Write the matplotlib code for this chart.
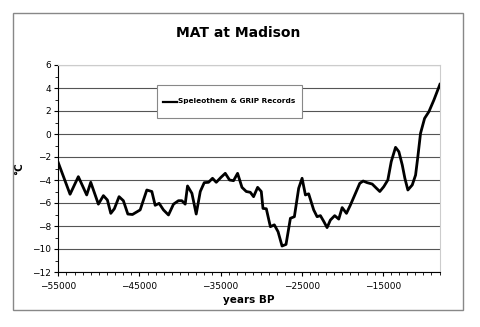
import matplotlib.pyplot as plt
from matplotlib.patches import Rectangle
from matplotlib.ticker import MultipleLocator

# values (years BP, deg C)
years = [-55000, -53550, -52530, -51500, -51000, -50060, -49440, -48950, -48530,
         -48090, -47510, -46980, -46430, -45860, -44910, -44090, -43470, -43060,
         -42570, -42040, -41420, -40800, -40190, -39770, -39360, -39070, -38530,
         -38000, -37500, -37010, -36480, -35990, -35530, -34950, -34420, -33890,
         -33400, -32900, -32360, -31830, -31330, -30930, -30430, -29980, -29770,
         -29360, -28860, -28370, -27910, -27420, -26930, -26390, -25900, -25370,
         -24950, -24540, -24140, -23520, -23100, -22690, -22280, -21870, -21460,
         -20930, -20430, -20010, -19480, -18990, -18370, -17840, -17420, -16930,
         -16310, -15780, -15370, -14880, -14380, -13960, -13430, -13020, -12600,
         -12280, -11910, -11370, -10960, -10680, -10350, -9850, -9320, -8700,
         -7960]
mat = [-2.5, -5.24, -3.71, -5.3, -4.2, -6.1, -5.36, -5.74, -6.9,
       -6.5, -5.45, -5.8, -6.96, -7.0, -6.6, -4.87, -5.0, -6.2,
       -6.03, -6.6, -7.04, -6.1, -5.8, -5.8, -6.1, -4.52, -5.16,
       -6.96, -5.0, -4.23, -4.2, -3.85, -4.2, -3.77, -3.42, -4.0,
       -4.06, -3.42, -4.64, -5.0, -5.07, -5.45, -4.64, -5.0, -6.47,
       -6.5, -8.06, -7.9, -8.5, -9.74, -9.6, -7.33, -7.19, -4.72,
       -3.85, -5.3, -5.2, -6.6, -7.19, -7.1, -7.6, -8.14, -7.48,
       -7.1, -7.4, -6.4, -6.9, -6.17, -5.16, -4.29, -4.09, -4.23,
       -4.35, -4.72, -5.0, -4.58, -4.0, -2.4, -1.16, -1.54, -2.7,
       -3.85, -4.87, -4.43, -3.57, -1.97, 0.06, 1.36, 1.94, 2.96,
       4.32]
xticks = [-55000, -45000, -35000, -25000, -15000]
series_name = 'Speleothem & GRIP Records'

plt.rcParams['font.family'] = ['DejaVu Sans']

fig = plt.figure(figsize=(4.8, 3.27), dpi=100)

# outer chart frame
fig.patches.append(Rectangle((13 / 480, 1 - 310 / 327), 450 / 480, 297 / 327,
                             transform=fig.transFigure, fill=False,
                             edgecolor='#888888', linewidth=1.0))

L, R, T, B = 58.3, 440, 65, 272
ax = fig.add_axes([L / 480, 1 - B / 327, (R - L) / 480, (B - T) / 327])
ax.plot(years, mat, color='black', linewidth=2.0, zorder=3)

ax.set_xlim(-55000, -7950)
ax.set_ylim(-12, 6)
ax.set_xticks(xticks)
ax.xaxis.set_minor_locator(MultipleLocator(1000))
ax.yaxis.set_major_locator(MultipleLocator(2))
ax.yaxis.set_minor_locator(MultipleLocator(1))
ax.tick_params(axis='both', which='major', labelsize=6.5, length=3, width=0.8,
               direction='out', pad=2)
ax.tick_params(axis='x', which='major', pad=4)
ax.tick_params(axis='both', which='minor', length=2, width=0.6, direction='out')
ax.grid(axis='y', which='major', color='#555555', linewidth=0.8)

for s in ['top', 'right']:
    ax.spines[s].set_color('#cccccc')
for s in ['left', 'bottom']:
    ax.spines[s].set_color('black')

ax.set_xlabel('years BP', fontsize=7.5, fontweight='bold', labelpad=3)
ax.set_ylabel('°C', fontsize=7.5, fontweight='bold')
ax.yaxis.set_label_coords(-0.09, 0.50)

fig.text(238 / 480, 1 - 33 / 327, 'MAT at Madison', ha='center', va='center',
         fontsize=10, fontweight='bold')

# legend box drawn by hand (pixel placement from the reference)
def ax_frac(px, py):
    return (px - L) / (R - L), (B - py) / (B - T)

x0, y0 = ax_frac(157, 118)
x1, y1 = ax_frac(302, 85)
ax.add_patch(Rectangle((x0, y0), x1 - x0, y1 - y0, transform=ax.transAxes,
                       facecolor='white', edgecolor='#888888', linewidth=0.8,
                       zorder=4))
lx0, ly = ax_frac(163, 101.5)
lx1, _ = ax_frac(177, 101.5)
ax.plot([lx0, lx1], [ly, ly], transform=ax.transAxes, color='black',
        linewidth=1.6, zorder=5)
tx, _ = ax_frac(178.5, 101.5)
ax.text(tx, ly, series_name, transform=ax.transAxes, fontsize=5.3,
        fontweight='bold', va='center', ha='left', zorder=5)

fig.savefig('out.png', dpi=100)
